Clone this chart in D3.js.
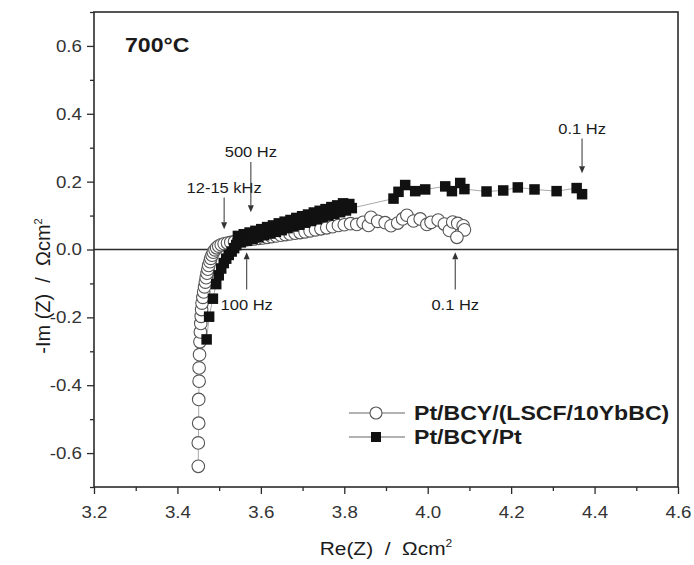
<!DOCTYPE html>
<html>
<head>
<meta charset="utf-8">
<script src="https://cdn.jsdelivr.net/npm/d3@7"></script>
<style>
  html, body { margin: 0; padding: 0; background: #fff; }
  svg { display: block; font-family: "Liberation Sans", Arial, sans-serif; }
</style>
</head>
<body>
<svg id="chart" width="694" height="565"></svg>
<script>
// Impedance spectra at 700 °C: Re(Z) vs -Im(Z), both in Ω·cm²

// Pt/BCY/(LSCF/10YbBC) cell — open circles
const cathodeRe = [
  3.450, 3.450, 3.451, 3.451, 3.452, 3.452, 3.453, 3.454, 3.455, 3.456,
  3.457, 3.458, 3.459, 3.461, 3.463, 3.465, 3.467, 3.469, 3.471, 3.473,
  3.475, 3.478, 3.480, 3.483, 3.486, 3.490, 3.494, 3.499, 3.505, 3.512,
  3.520, 3.528, 3.537, 3.546, 3.555, 3.565, 3.575, 3.585, 3.595, 3.605,
  3.615, 3.626, 3.637, 3.648, 3.659, 3.670, 3.682, 3.694, 3.706, 3.718,
  3.731, 3.744, 3.758, 3.772, 3.786, 3.800, 3.815, 3.830, 3.845, 3.858,
  3.864, 3.880, 3.898, 3.912, 3.928, 3.940, 3.950, 3.966, 3.982, 3.998,
  4.008, 4.025, 4.040, 4.052, 4.060, 4.072, 4.085, 4.088, 4.070
];
const cathodeIm = [
  -0.639, -0.570, -0.512, -0.442, -0.388, -0.349, -0.310, -0.272, -0.243, -0.218,
  -0.197, -0.177, -0.158, -0.141, -0.125, -0.110, -0.096, -0.083, -0.070, -0.058,
  -0.047, -0.036, -0.026, -0.017, -0.008, -0.001, 0.005, 0.010, 0.014, 0.017,
  0.019, 0.021, 0.023, 0.025, 0.027, 0.028, 0.030, 0.031, 0.033, 0.034,
  0.036, 0.038, 0.040, 0.042, 0.044, 0.046, 0.048, 0.050, 0.052, 0.055,
  0.058, 0.061, 0.064, 0.067, 0.071, 0.073, 0.076, 0.074, 0.080, 0.071,
  0.095, 0.083, 0.079, 0.070, 0.078, 0.090, 0.101, 0.084, 0.090, 0.074,
  0.080, 0.087, 0.075, 0.056, 0.081, 0.077, 0.070, 0.058, 0.036
];

// Pt/BCY/Pt cell — filled squares
const ptRe = [
  3.470, 3.476, 3.485, 3.493, 3.499, 3.505, 3.511, 3.517, 3.523, 3.530,
  3.536, 3.541, 3.545, 3.552, 3.559, 3.566, 3.573, 3.580, 3.587, 3.594,
  3.601, 3.608, 3.615, 3.622, 3.629, 3.636, 3.643, 3.650, 3.657, 3.664,
  3.671, 3.678, 3.685, 3.692, 3.699, 3.706, 3.713, 3.720, 3.727, 3.734,
  3.741, 3.748, 3.755, 3.762, 3.769, 3.776, 3.783, 3.790, 3.797, 3.804,
  3.812, 3.818, 3.918, 3.930, 3.946, 3.970, 3.994, 4.042, 4.058, 4.078,
  4.088, 4.141, 4.181, 4.216, 4.256, 4.309, 4.357, 4.370
];
const ptIm = [
  -0.265, -0.198, -0.145, -0.102, -0.076, -0.056, -0.040, -0.027, -0.016, -0.006,
  0.004, 0.013, 0.040, 0.021, 0.045, 0.026, 0.050, 0.031, 0.055, 0.036,
  0.060, 0.042, 0.066, 0.047, 0.071, 0.052, 0.077, 0.057, 0.082, 0.063,
  0.087, 0.068, 0.093, 0.073, 0.098, 0.079, 0.103, 0.084, 0.109, 0.089,
  0.114, 0.095, 0.119, 0.100, 0.125, 0.105, 0.130, 0.110, 0.136, 0.115,
  0.134, 0.122, 0.150, 0.170, 0.190, 0.172, 0.177, 0.186, 0.172, 0.196,
  0.178, 0.171, 0.174, 0.183, 0.177, 0.172, 0.181, 0.163
];

const seriesNames = ["Pt/BCY/(LSCF/10YbBC)", "Pt/BCY/Pt"];

// Axis ticks
const xMajorTicks = [3.2, 3.4, 3.6, 3.8, 4.0, 4.2, 4.4, 4.6];
const xMinorTicks = [3.3, 3.5, 3.7, 3.9, 4.1, 4.3, 4.5];
const yMajorTicks = [-0.6, -0.4, -0.2, 0.0, 0.2, 0.4, 0.6];
const yMinorTicks = [-0.7, -0.5, -0.3, -0.1, 0.1, 0.3, 0.5, 0.7];

// Frequency markers: label and the Re/-Im span of each arrow
const freqNotes = [
  { text: "12-15 kHz", re: 3.512, from: 0.153, to: 0.060, dir: "down" },
  { text: "500 Hz",    re: 3.576, from: 0.258, to: 0.110, dir: "down" },
  { text: "100 Hz",    re: 3.566, from: -0.118, to: -0.008, dir: "up" },
  { text: "0.1 Hz",    re: 4.066, from: -0.118, to: -0.008, dir: "up" },
  { text: "0.1 Hz",    re: 4.370, from: 0.327, to: 0.225, dir: "down" }
];

const m = { left: 94, right: 678, top: 12, bottom: 487 };
const SX = 1.1; // horizontal stretch applied to labels

const svg = d3.select("#chart");

const x = d3.scaleLinear().domain([3.2, 4.6]).range([m.left, m.right]);
const y = d3.scaleLinear().domain([-0.7, 0.7]).range([m.bottom, m.top]);

const axisColor = "#2b2b2b";
const textColor = "#1b1b1b";
const fmt = d => d3.format(".1f")(d).replace("−", "-");

// Bottom axis: major ticks with labels, minor ticks without
const gx = svg.append("g").attr("transform", `translate(0,${m.bottom})`);
gx.call(d3.axisBottom(x).tickValues(xMajorTicks).tickSize(7).tickPadding(12).tickFormat(fmt));
gx.selectAll(".tick text")
  .attr("font-size", 17).attr("fill", "#333")
  .attr("font-family", "'Liberation Sans', Arial, sans-serif")
  .attr("transform", `scale(${SX},1)`);
gx.append("g").call(d3.axisBottom(x).tickValues(xMinorTicks).tickSize(4).tickFormat(""));
gx.selectAll(".domain").remove();
gx.selectAll("line").attr("stroke", axisColor).attr("stroke-width", 1.3);

// Left axis
const gy = svg.append("g").attr("transform", `translate(${m.left},0)`);
gy.call(d3.axisLeft(y).tickValues(yMajorTicks).tickSize(7).tickPadding(4).tickFormat(fmt));
gy.selectAll(".tick text")
  .attr("font-size", 17).attr("fill", "#333")
  .attr("font-family", "'Liberation Sans', Arial, sans-serif")
  .attr("transform", `scale(${SX},1)`);
gy.append("g").call(d3.axisLeft(y).tickValues(yMinorTicks).tickSize(4).tickFormat(""));
gy.selectAll(".domain").remove();
gy.selectAll("line").attr("stroke", axisColor).attr("stroke-width", 1.3);

// Plot frame
svg.append("rect")
  .attr("x", m.left).attr("y", m.top)
  .attr("width", m.right - m.left).attr("height", m.bottom - m.top)
  .attr("fill", "none").attr("stroke", axisColor).attr("stroke-width", 1.6);

// Zero line
svg.append("line")
  .attr("x1", m.left).attr("x2", m.right)
  .attr("y1", y(0)).attr("y2", y(0))
  .attr("stroke", axisColor).attr("stroke-width", 1.6);

// Series data
const cathodeData = cathodeRe.map((d, i) => ({ re: d, im: cathodeIm[i] }));
const ptData = ptRe.map((d, i) => ({ re: d, im: ptIm[i] }));

const line = d3.line().x(d => x(d.re)).y(d => y(d.im));

const plot = svg.append("g");

plot.append("path").datum(cathodeData).attr("d", line)
  .attr("fill", "none").attr("stroke", "#aaa").attr("stroke-width", 1);
plot.selectAll("circle.cathode").data(cathodeData).join("circle")
  .attr("class", "cathode")
  .attr("cx", d => x(d.re)).attr("cy", d => y(d.im)).attr("r", 6.3)
  .attr("fill", "#fff").attr("stroke", "#555").attr("stroke-width", 1.1);

plot.append("path").datum(ptData).attr("d", line)
  .attr("fill", "none").attr("stroke", "#aaa").attr("stroke-width", 1);
const sq = 10.5;
plot.selectAll("rect.pt").data(ptData).join("rect")
  .attr("class", "pt")
  .attr("x", d => x(d.re) - sq / 2).attr("y", d => y(d.im) - sq / 2)
  .attr("width", sq).attr("height", sq).attr("fill", "#111");

// Text helper with the horizontal stretch
function stretchedText(parent, px, py, str, size, weight, anchor) {
  return parent.append("text")
    .attr("transform", `translate(${px},${py}) scale(${SX},1)`)
    .attr("text-anchor", anchor || "start")
    .attr("font-size", size).attr("font-weight", weight || "normal")
    .attr("fill", textColor)
    .text(str);
}

// Frequency annotations with arrows
const notes = svg.append("g");
freqNotes.forEach(n => {
  const px = x(n.re), y1 = y(n.from), y2 = y(n.to);
  const tipLen = 7, tipW = 3;
  const base = n.dir === "down" ? y2 - tipLen : y2 + tipLen;
  notes.append("line")
    .attr("x1", px).attr("x2", px)
    .attr("y1", y1).attr("y2", base)
    .attr("stroke", "#444").attr("stroke-width", 1.1);
  notes.append("path")
    .attr("d", `M${px},${y2} L${px - tipW},${base} L${px + tipW},${base} Z`)
    .attr("fill", "#333");
  const ty = n.dir === "down" ? y1 - 5 : y1 + 20;
  stretchedText(notes, px, ty, n.text, 15, "normal", "middle");
});

// Temperature label
stretchedText(svg, 125, 52, "700°C", 21, "bold");

// Axis titles
const xt = svg.append("text")
  .attr("transform", `translate(386,555) scale(${SX},1)`)
  .attr("text-anchor", "middle")
  .attr("font-size", 19).attr("fill", textColor);
xt.append("tspan").text("Re(Z)\u00A0\u00A0/\u00A0\u00A0Ωcm");
xt.append("tspan").attr("dy", -8).attr("font-size", 11).text("2");

const yt = svg.append("text")
  .attr("transform", `translate(50,286) rotate(-90)`)
  .attr("text-anchor", "middle")
  .attr("font-size", 20).attr("fill", textColor);
yt.append("tspan").text("-Im (Z)\u00A0\u00A0/\u00A0\u00A0Ωcm");
yt.append("tspan").attr("dy", -8).attr("font-size", 11).text("2");

// Legend
const legend = svg.append("g");
const legRows = [
  { name: seriesNames[0], y: 413, kind: "circle" },
  { name: seriesNames[1], y: 437, kind: "square" }
];
legRows.forEach(r => {
  legend.append("line")
    .attr("x1", 349).attr("x2", 405).attr("y1", r.y).attr("y2", r.y)
    .attr("stroke", "#666").attr("stroke-width", 1.1);
  if (r.kind === "circle") {
    legend.append("circle").attr("cx", 376).attr("cy", r.y).attr("r", 6)
      .attr("fill", "#fff").attr("stroke", "#555").attr("stroke-width", 1.1);
  } else {
    legend.append("rect").attr("x", 376 - 5).attr("y", r.y - 5)
      .attr("width", 10).attr("height", 10).attr("fill", "#111");
  }
  stretchedText(legend, 414, r.y + 7, r.name, 21, "bold");
});
</script>
</body>
</html>
